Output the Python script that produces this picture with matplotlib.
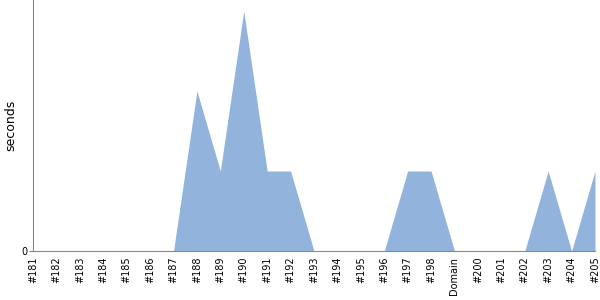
import matplotlib
matplotlib.use("Agg")
import matplotlib.pyplot as plt

labels = ["#181", "#182", "#183", "#184", "#185", "#186", "#187", "#188", "#189", "#190",
          "#191", "#192", "#193", "#194", "#195", "#196", "#197", "#198", "Domain", "#200",
          "#201", "#202", "#203", "#204", "#205"]
seconds = [0, 0, 0, 0, 0, 0, 0, 2, 1, 3, 1, 1, 0, 0, 0, 0, 1, 1, 0, 0, 0, 0, 1, 0, 1]

fig = plt.figure(figsize=(6, 3), dpi=100)
ax = fig.add_axes([33/600, 49/300, 562/600, 251/300])
x = list(range(len(labels)))
ax.fill_between(x, seconds, 0, color="#92b4dc", linewidth=0)
ax.set_xlim(0, len(labels) - 1)
ax.set_ylim(0, 3.1375)
ax.set_xticks(x)
ax.set_xticklabels(labels, rotation=90, fontsize=7)
ax.set_yticks([0])
ax.set_yticklabels(["0"], fontsize=7)
ax.tick_params(axis="x", length=0, pad=4)
ax.tick_params(axis="y", length=3, color="#888888", pad=1)
fig.text(11/600, 1 - 125/300, "seconds", rotation=90, ha="center", va="center", fontsize=9)
for s in ["top", "right"]:
    ax.spines[s].set_visible(False)
for s in ["left", "bottom"]:
    ax.spines[s].set_color("#888888")
fig.savefig("out.png", dpi=100)
